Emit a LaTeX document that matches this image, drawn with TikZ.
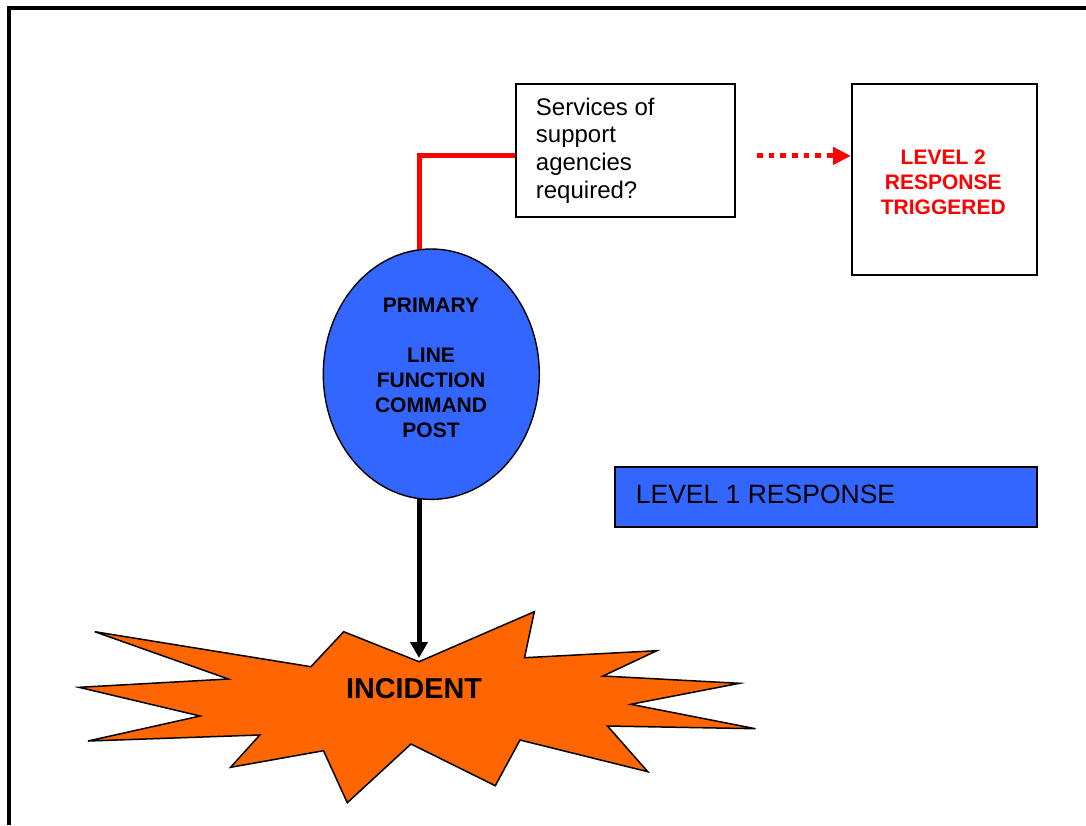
\documentclass[tikz,border=0pt]{standalone}
\usepackage{fontspec}
\setmainfont{Liberation Sans}
\usetikzlibrary{shapes.geometric,arrows.meta}
\definecolor{cmdblue}{RGB}{51,102,255}
\definecolor{blastorange}{RGB}{255,102,0}
\definecolor{alertred}{RGB}{255,0,0}

\begin{document}
\begin{tikzpicture}[x=1pt,y=-1pt,
  box/.style={draw=black, line width=1.8pt, inner sep=0pt, anchor=north west},
  bluebox/.style={box, fill=cmdblue},
  plaintext/.style={inner sep=0pt, font=\fontsize{24}{27.7}\selectfont, align=left},
  headtext/.style={inner sep=0pt, font=\bfseries\fontsize{21}{25}\selectfont, align=center},
  redlink/.style={draw=alertred, line width=5pt},
  dotarrow/.style={draw=alertred, line width=5pt, dash pattern=on 5.7pt off 6pt,
    -{Triangle[length=18pt,width=17pt]}},
  blackarrow/.style={draw=black, line width=5pt, -{Triangle[length=16pt,width=17pt]}}
]
\useasboundingbox (0,0) rectangle (1086,825);

% page frame
\draw[line width=4pt, line join=miter] (8.7,825) -- (8.7,8) -- (1086,8);

% incident burst
\draw[fill=blastorange, line width=1.5pt, line join=miter]
  (94.7,631.7) -- (310.9,666.7) -- (343.7,631.7) -- (419,661.7) -- (534.3,611.7)
  -- (524.5,657.7) -- (656.8,650.7) -- (603,676) -- (739.4,683.3) -- (630.8,704.3)
  -- (755.5,728.7) -- (607.5,726) -- (647.8,771.7) -- (520,740) -- (495.3,785.7)
  -- (411,744) -- (347.3,802.7) -- (323.5,750.7) -- (230.6,767.3) -- (259.8,735)
  -- (88,741) -- (200.1,716) -- (79,687.3) -- (228.4,679) -- cycle;
\coordinate (blasttop) at (419,658);
\node[inner sep=0pt, font=\bfseries\fontsize{28.8}{34}\selectfont] (inc) at (414,689) {INCIDENT};

% command post
\node[ellipse, draw=black, fill=cmdblue, line width=1.4pt, minimum width=216pt,
  minimum height=250.4pt, inner sep=0pt] (cmd) at (431.3,374.2) {};
\node[headtext] (cmdtext) at (431,368.2) {PRIMARY\\[25pt]LINE\\FUNCTION\\COMMAND\\POST};

% question box
\node[box, minimum width=219.3pt, minimum height=133pt] (svc) at (515,82.7) {};
\node[plaintext, anchor=north west] (svctext) at (535.7,97.5)
  {Services of\\support\\agencies\\required?};

% level 2 box
\node[box, minimum width=184.7pt, minimum height=191.6pt] (lvl2) at (851,82.7) {};
\node[headtext, text=alertred] (lvl2text) at (943.3,181.9) {LEVEL 2\\RESPONSE\\TRIGGERED};

% level 1 bar
\node[bluebox, minimum width=421.7pt, minimum height=60pt] (lvl1) at (614.3,466) {};
\node[inner sep=0pt, anchor=base west, font=\fontsize{26.5}{30}\selectfont] (lvl1text)
  at (635.7,503.3) {LEVEL 1 RESPONSE};

% connectors
\draw[redlink] (cmd.95.6 -| blasttop) |- ([yshift=-5.8pt]svc.west);
\draw[dotarrow] ([shift={(20.7pt,-5.8pt)}]svc.east) -- ([yshift=23.5pt]lvl2.west);
\draw[blackarrow] (cmd.264.4 -| blasttop) -- (blasttop);
\end{tikzpicture}
\end{document}
